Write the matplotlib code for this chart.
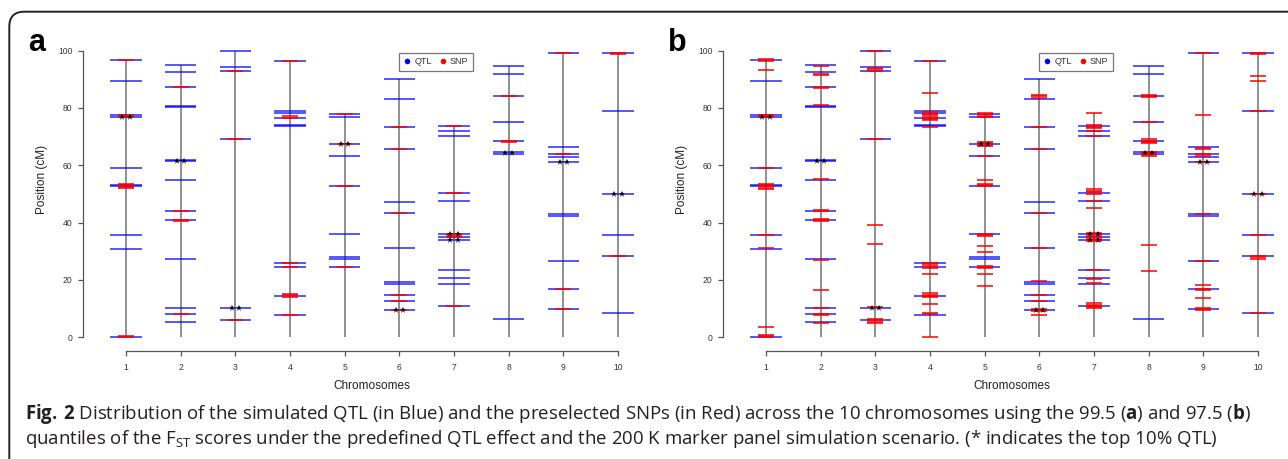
import matplotlib
matplotlib.use('Agg')
import matplotlib.pyplot as plt
from matplotlib.lines import Line2D
from matplotlib.path import Path
from matplotlib.patches import PathPatch

plt.rcParams['font.family'] = ['Liberation Sans', 'DejaVu Sans']
plt.rcParams['mathtext.fontset'] = 'custom'
plt.rcParams['mathtext.rm'] = 'Open Sans'
plt.rcParams['mathtext.bf'] = 'Open Sans:bold'

W, H = 1288, 459
CHROMS = list(range(1, 11))

# simulated QTL positions (cM), same in both panels
qtl_c1 = [96.7, 89.4, 77.5, 76.8, 58.9, 53.1, 52.7, 35.7, 30.7, 0.2]
qtl_c2 = [94.9, 92.6, 87.4, 80.8, 80.4, 61.8, 61.4, 54.8, 44.1, 40.8, 27.2, 10.2, 8.1, 5.2]
qtl_c3 = [99.9, 94.2, 92.9, 69.2, 10.3, 6.1]
qtl_c4 = [96.5, 78.8, 78.4, 76.5, 74.1, 73.7, 25.8, 24.5, 14.5, 7.9]
qtl_c5 = [77.9, 76.7, 67.5, 63.1, 52.8, 36.0, 27.9, 27.3, 24.4]
qtl_c6 = [90.2, 83.2, 73.4, 65.6, 47.3, 43.4, 31.1, 19.4, 18.6, 14.8, 12.8, 9.5]
qtl_c7 = [73.7, 72.0, 70.3, 50.3, 47.4, 36.1, 35.1, 33.9, 23.4, 20.6, 18.7, 10.8]
qtl_c8 = [94.7, 91.7, 84.2, 75.0, 68.4, 64.5, 63.8, 6.5]
qtl_c9 = [99.1, 66.4, 63.9, 62.9, 61.0, 43.1, 42.4, 26.6, 16.8, 10.0]
qtl_c10 = [99.2, 78.9, 50.1, 35.7, 28.3, 8.5]
QTL = [qtl_c1, qtl_c2, qtl_c3, qtl_c4, qtl_c5, qtl_c6, qtl_c7, qtl_c8, qtl_c9, qtl_c10]

# top 10% QTL (marked with **)
top_chr = [1, 2, 3, 5, 6, 7, 7, 8, 9, 10]
top_pos = [76.9, 61.6, 10.3, 67.5, 9.5, 36.1, 33.9, 64.3, 61.0, 50.1]

# preselected SNPs, 99.5 quantile (panel a)
snp_a_c1 = [96.7, 77.5, 77.0, 53.5, 53.0, 52.5, 52.0, 0.5, 0.2]
snp_a_c2 = [87.4, 44.1, 40.9, 40.6, 8.1]
snp_a_c3 = [92.9, 69.2, 6.1]
snp_a_c4 = [96.5, 77.1, 76.6, 26.0, 24.5, 15.0, 14.6, 14.2, 7.9]
snp_a_c5 = [77.9, 67.5, 52.8, 24.4]
snp_a_c6 = [73.4, 65.6, 43.4, 14.8, 12.8, 9.5]
snp_a_c7 = [73.7, 50.3, 36.1, 35.6, 35.1, 10.8]
snp_a_c8 = [84.2, 68.6, 68.2]
snp_a_c9 = [99.1, 63.9, 16.8, 10.0]
snp_a_c10 = [99.3, 98.9, 28.3]
SNP_A = [snp_a_c1, snp_a_c2, snp_a_c3, snp_a_c4, snp_a_c5,
         snp_a_c6, snp_a_c7, snp_a_c8, snp_a_c9, snp_a_c10]

# preselected SNPs, 97.5 quantile (panel b)
snp_b_c1 = [96.9, 96.5, 93.1, 77.7, 77.2, 76.7, 58.9, 53.6, 53.1, 52.6, 52.1, 51.6,
            35.7, 31.0, 3.6, 0.9, 0.5, 0.1]
snp_b_c2 = [94.7, 92.0, 91.4, 87.4, 87.0, 81.0, 55.2, 44.3, 44.0, 41.2, 40.8, 40.4,
            27.1, 16.4, 10.2, 8.2, 7.8, 5.1]
snp_b_c3 = [100.0, 94.1, 93.5, 92.9, 69.2, 39.2, 32.5, 10.6, 6.5, 6.0, 5.5, 5.1]
snp_b_c4 = [96.5, 85.3, 78.6, 78.0, 77.4, 76.8, 76.2, 75.8, 73.4, 26.0, 25.4, 24.8,
            24.3, 22.0, 15.3, 14.8, 14.3, 13.9, 11.6, 8.5, 8.0, 0.0]
snp_b_c5 = [78.3, 77.8, 77.3, 76.9, 68.2, 67.7, 67.2, 66.8, 63.2, 54.9, 53.4, 53.0,
            52.6, 36.0, 35.6, 35.2, 31.8, 29.9, 24.9, 24.5, 24.2, 22.1, 17.9]
snp_b_c6 = [84.6, 84.0, 83.3, 73.4, 65.6, 43.4, 31.1, 19.7, 14.8, 12.7, 10.0, 9.5, 9.0, 7.7]
snp_b_c7 = [78.4, 73.9, 73.5, 73.1, 72.0, 70.3, 51.8, 51.2, 50.6, 50.0, 47.5, 45.0,
            36.5, 35.9, 35.3, 34.7, 34.1, 33.5, 23.4, 20.3, 18.9, 11.9, 11.4, 10.9, 10.4, 10.1]
snp_b_c8 = [84.6, 84.2, 83.9, 75.2, 69.0, 68.5, 68.0, 67.8, 64.8, 64.3, 63.8, 63.3, 32.2, 23.2]
snp_b_c9 = [99.1, 77.6, 66.2, 65.8, 63.8, 63.4, 61.0, 42.9, 26.6, 18.2, 17.0, 16.5,
            13.7, 10.3, 9.9, 9.5]
snp_b_c10 = [99.3, 98.9, 91.0, 89.4, 78.9, 50.1, 35.8, 28.4, 27.9, 27.4, 8.6]
SNP_B = [snp_b_c1, snp_b_c2, snp_b_c3, snp_b_c4, snp_b_c5,
         snp_b_c6, snp_b_c7, snp_b_c8, snp_b_c9, snp_b_c10]

Y_TICKS = [0, 20, 40, 60, 80, 100]
CAPTION_1 = (r'$\mathbf{Fig.\,2}$ Distribution of the simulated QTL (in Blue) and the preselected '
             r'SNPs (in Red) across the 10 chromosomes using the 99.5 ($\mathbf{a}$) and 97.5 ($\mathbf{b}$)')
CAPTION_2 = (r'quantiles of the $\mathrm{F}_{\mathrm{ST}}$ scores under the predefined QTL effect and '
             r'the 200 K marker panel simulation scenario. (* indicates the top 10% QTL)')

# pixel layout
PX_CHR, PX_CM = 54.67, 2.867
CHR1_X, CM0_Y = 126.0, 337.3
SPINE_X, AXIS_Y, TOP_Y, RIGHT_X = 82.7, 350.7, 39.1, 650.8


def panel(fig, dx, snps, letter):
    left, right = SPINE_X + dx, RIGHT_X + dx
    ax = fig.add_axes([left / W, 1 - AXIS_Y / H, (right - left) / W, (AXIS_Y - TOP_Y) / H])
    ax.set_xlim(1 + (SPINE_X - CHR1_X) / PX_CHR, 1 + (RIGHT_X - CHR1_X) / PX_CHR)
    ax.set_ylim((CM0_Y - AXIS_Y) / PX_CM, (CM0_Y - TOP_Y) / PX_CM)
    ax.patch.set_visible(False)

    tops = [max(q + s) for q, s in zip(QTL, snps)]
    ax.vlines(CHROMS, 0, tops, color='#888888', lw=1.3, zorder=1)
    for c, q in zip(CHROMS, QTL):
        ax.hlines(q, c - 0.285, c + 0.285, color='#0000ff', alpha=0.78, lw=1.2, zorder=2)
    for c, s in zip(CHROMS, snps):
        ax.hlines(s, c - 0.145, c + 0.145, color='#ff0000', alpha=0.88, lw=1.25, zorder=3)
    for c, p in zip(top_chr, top_pos):
        ax.plot([c - 0.065, c + 0.065], [p, p], ls='none', marker='*', ms=4.8,
                color='black', mew=0, zorder=4)

    for s in ('top', 'right'):
        ax.spines[s].set_visible(False)
    ax.spines['left'].set_bounds(0, 100)
    ax.spines['bottom'].set_bounds(1, 10)
    for s in ('left', 'bottom'):
        ax.spines[s].set_color('#555555')
        ax.spines[s].set_linewidth(0.9)
    ax.set_yticks(Y_TICKS)
    ax.set_xticks(CHROMS)
    ax.tick_params(length=3.8, width=0.9, color='#555555', labelsize=6.2, labelcolor='#333333', pad=3.4)
    ax.tick_params(axis='x', pad=5)

    ax.text(5.5, -(386 - AXIS_Y) / (AXIS_Y - TOP_Y), 'Chromosomes', transform=ax.get_xaxis_transform(),
            ha='center', va='center', fontsize=8.5, color='#222222')
    fig.text((42 + dx) / W, 1 - 179 / H, 'Position (cM)', rotation=90, ha='center', va='center',
             fontsize=8.5, color='#222222')

    handles = [Line2D([], [], ls='none', marker='o', ms=3, color='#0000ff', label='QTL'),
               Line2D([], [], ls='none', marker='o', ms=3, color='#ff0000', label='SNP')]
    leg = ax.legend(handles=handles, ncol=2, loc='upper left',
                    bbox_to_anchor=(1 + (399 - CHR1_X) / PX_CHR, (CM0_Y - 52.7) / PX_CM),
                    bbox_transform=ax.transData, fontsize=6.5, frameon=True, fancybox=False,
                    handlelength=0.8, handletextpad=0.4, columnspacing=0.8, borderpad=0.5,
                    borderaxespad=0)
    leg.get_frame().set_edgecolor('#555555')
    leg.get_frame().set_linewidth(0.9)
    for t in leg.get_texts():
        t.set_color('#333333')

    fig.text((28 + dx) / W, 1 - 51 / H, letter, fontsize=22, weight='bold', va='baseline')
    return ax


fig = plt.figure(figsize=(W / 100, H / 100), dpi=100)
panel(fig, 0, SNP_A, 'a')
panel(fig, 640, SNP_B, 'b')

# figure frame: top and left edges with a rounded corner
fx, fy, r = 9.3, 11.7, 15.0
verts = [(fx / W, 0.0), (fx / W, 1 - (fy + r) / H), (fx / W, 1 - fy / H),
         ((fx + r) / W, 1 - fy / H), (1.0, 1 - fy / H)]
codes = [Path.MOVETO, Path.LINETO, Path.CURVE3, Path.CURVE3, Path.LINETO]
fig.add_artist(PathPatch(Path(verts, codes), transform=fig.transFigure, fill=False,
                         lw=1.4, ec='#222222'))

# caption, sized so the first line spans the same width as the original
cap1 = fig.text(25 / W, 1 - 419 / H, CAPTION_1, fontsize=12, family='Open Sans',
                va='baseline', color='#231f20')
cap2 = fig.text(25 / W, 1 - 444 / H, CAPTION_2, fontsize=12, family='Open Sans',
                va='baseline', color='#231f20')
fig.canvas.draw()
w1 = cap1.get_window_extent().width
size = 12 * (1253 - 25) / w1
cap1.set_fontsize(size)
cap2.set_fontsize(size)

fig.savefig('out.png', dpi=100)
